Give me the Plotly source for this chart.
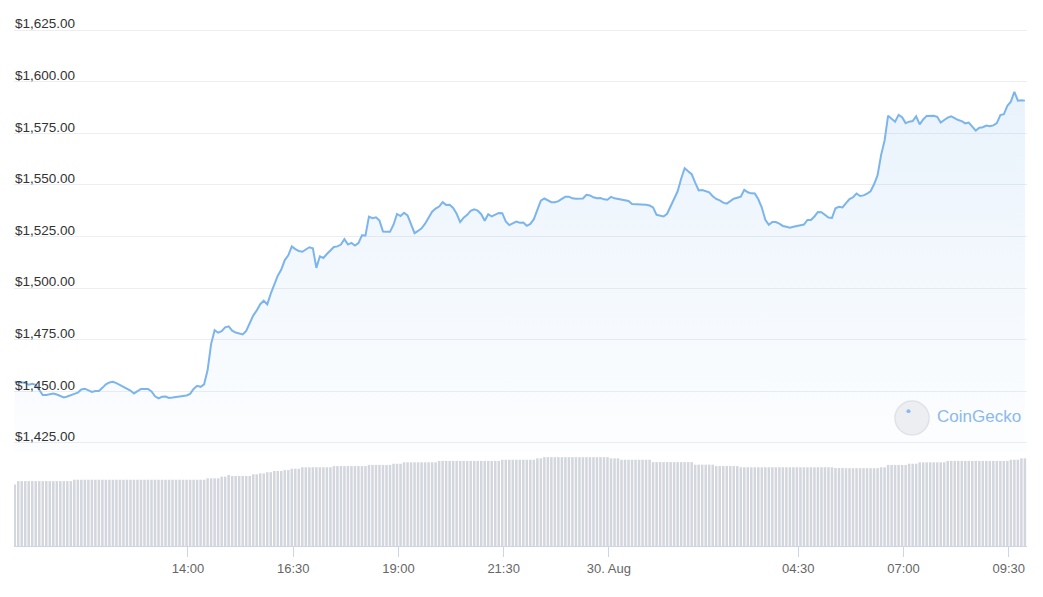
import pandas as pd
import plotly.graph_objects as go

# ETH price (USD), 5 minute points, 29 Aug 09:53 -> 30 Aug 09:53
price = [
    1454.7, 1454.5, 1454.4, 1454.2, 1453.2, 1453.7, 1453.2, 1450.5, 1448.2, 1448.2,
    1448.7, 1449.0, 1448.5, 1447.8, 1447.1, 1447.5, 1448.3, 1448.8, 1449.4, 1450.9,
    1451.3, 1450.4, 1449.7, 1450.2, 1450.2, 1451.7, 1453.4, 1454.3, 1454.6, 1454.0,
    1453.1, 1452.0, 1450.9, 1450.4, 1449.0, 1450.2, 1451.2, 1451.2, 1451.2, 1450.0,
    1447.6, 1446.6, 1447.4, 1447.5, 1446.8, 1447.0, 1447.3, 1447.8, 1447.8, 1448.0,
    1448.8, 1451.2, 1452.7, 1452.2, 1453.4, 1460.3, 1473.0, 1479.6, 1478.4, 1479.1,
    1481.0, 1481.5, 1479.4, 1478.5, 1477.9, 1477.6, 1479.3, 1483.0, 1486.7, 1489.2,
    1492.2, 1493.9, 1492.1, 1497.3, 1501.5, 1506.0, 1509.0, 1513.6, 1515.9, 1520.2,
    1518.9, 1518.0, 1517.6, 1518.5, 1519.8, 1519.3, 1509.8, 1515.4, 1514.6, 1516.5,
    1518.4, 1519.9, 1520.2, 1521.1, 1523.7, 1521.1, 1521.9, 1520.6, 1521.8, 1525.6,
    1525.5, 1534.6, 1533.9, 1534.3, 1532.7, 1527.4, 1527.3, 1527.3, 1530.7, 1535.9,
    1534.9, 1536.5, 1535.2, 1530.5, 1526.6, 1527.7, 1529.0, 1531.2, 1534.2, 1537.0,
    1538.5, 1539.5, 1541.6, 1540.3, 1540.4, 1538.8, 1536.0, 1532.0, 1534.1, 1535.5,
    1537.4, 1538.2, 1537.5, 1535.8, 1532.6, 1535.8, 1534.7, 1535.7, 1536.4, 1536.3,
    1532.3, 1530.5, 1531.4, 1532.2, 1531.7, 1531.8, 1530.2, 1531.1, 1533.4, 1538.0,
    1542.4, 1543.4, 1542.5, 1541.6, 1541.6, 1542.1, 1543.2, 1544.3, 1544.3, 1543.5,
    1543.3, 1543.2, 1543.4, 1545.2, 1544.9, 1544.0, 1543.5, 1543.6, 1543.0, 1542.8,
    1544.2, 1543.5, 1543.2, 1542.9, 1542.4, 1542.2, 1540.7, 1540.7, 1540.7, 1540.6,
    1540.4, 1540.0, 1539.1, 1535.5, 1535.2, 1534.7, 1536.0, 1539.6, 1543.9, 1546.9,
    1553.0, 1558.1, 1556.6, 1555.2, 1551.1, 1547.3, 1547.5, 1547.1, 1546.4, 1544.5,
    1543.2, 1542.5, 1541.4, 1540.9, 1542.0, 1543.3, 1543.8, 1544.3, 1547.6, 1546.4,
    1545.9, 1545.8, 1543.0, 1539.0, 1533.1, 1530.7, 1532.0, 1532.0, 1531.2, 1530.1,
    1529.7, 1529.2, 1529.7, 1530.1, 1530.2, 1530.8, 1533.0, 1533.0, 1534.7, 1536.9,
    1536.8, 1535.3, 1534.2, 1534.0, 1538.7, 1539.4, 1539.1, 1541.2, 1543.1, 1544.0,
    1545.8, 1544.6, 1544.9, 1545.8, 1546.9, 1550.3, 1554.7, 1564.4, 1571.5, 1583.5,
    1582.0, 1580.6, 1583.9, 1582.8, 1579.9, 1580.6, 1580.9, 1583.2, 1579.3, 1581.7,
    1583.4, 1583.5, 1583.5, 1583.0, 1580.2, 1581.4, 1582.6, 1583.2, 1582.1, 1581.4,
    1580.9, 1579.8, 1580.2, 1578.3, 1576.3, 1577.7, 1577.9, 1578.7, 1578.4, 1578.8,
    1579.9, 1583.8, 1584.2, 1588.3, 1590.3, 1595.1, 1590.8, 1591.0, 1590.8,
]

# 24h volume (USD bn), same timestamps
volume = [
    13.1,
    13.8, 13.8, 13.8, 13.8, 13.8, 13.8, 13.8, 13.8, 13.8, 13.8, 13.8, 13.8, 13.8, 13.8, 13.8, 13.8,
    14.1, 14.1, 14.1, 14.1, 14.1, 14.1, 14.1, 14.1, 14.1, 14.1, 14.1, 14.1, 14.1, 14.1, 14.1, 14.1,
    14.1, 14.1, 14.1, 14.1, 14.1, 14.1, 14.1, 14.1, 14.1, 14.1, 14.1, 14.1, 14.1, 14.1, 14.1, 14.1,
    14.1, 14.1, 14.1, 14.1, 14.1, 14.1,
    14.4, 14.4, 14.4, 14.4, 14.75, 14.75, 15.1,
    14.9, 14.9, 14.9, 14.9, 14.9, 14.9,
    15.25, 15.25, 15.45, 15.45, 15.7, 15.7, 15.95, 15.95, 15.95, 16.15, 16.15,
    16.45, 16.45, 16.45,
    16.75, 16.75, 16.75, 16.75, 16.75, 16.75, 16.75, 16.75, 16.75,
    17.0, 17.0, 17.0, 17.0, 17.0, 17.0, 17.0, 17.0, 17.0, 17.0,
    17.25, 17.25, 17.25, 17.25, 17.25, 17.25, 17.25,
    17.5, 17.5, 17.5,
    17.8, 17.8, 17.8, 17.8, 17.8, 17.8, 17.8, 17.8, 17.8, 17.8,
    18.1, 18.1, 18.1, 18.1, 18.1, 18.1, 18.1, 18.1, 18.1, 18.1, 18.1, 18.1, 18.1, 18.1, 18.1, 18.1,
    18.1, 18.1,
    18.35, 18.35, 18.35, 18.35, 18.35, 18.35, 18.35, 18.35, 18.35, 18.35,
    18.65, 18.65,
    18.9, 18.9, 18.9, 18.9, 18.9, 18.9, 18.9, 18.9, 18.9, 18.9, 18.9, 18.9, 18.9, 18.9, 18.9, 18.9,
    18.9, 18.9, 18.9,
    18.65, 18.65, 18.65,
    18.35, 18.35, 18.35, 18.35, 18.35, 18.35, 18.35, 18.35, 18.35,
    17.85, 17.85, 17.85, 17.85, 17.85, 17.85, 17.85, 17.85, 17.85, 17.85, 17.85, 17.85,
    17.3, 17.3, 17.3, 17.3, 17.3, 17.3,
    17.0, 17.0, 17.0, 17.0, 17.0, 17.0, 17.0,
    16.75, 16.75, 16.75, 16.75, 16.75, 16.75, 16.75, 16.75, 16.75, 16.75, 16.75, 16.75, 16.75, 16.75,
    16.75, 16.75, 16.75, 16.75, 16.75, 16.75, 16.75, 16.75, 16.75, 16.75, 16.75, 16.75, 16.75,
    16.6, 16.6, 16.6,
    16.55, 16.55, 16.55, 16.55, 16.55, 16.55, 16.55, 16.55, 16.55, 16.55,
    16.75, 16.75,
    17.25, 17.25, 17.25, 17.25, 17.25, 17.25,
    17.5, 17.5, 17.5,
    17.8, 17.8, 17.8, 17.8, 17.8, 17.8, 17.8, 17.8,
    18.1, 18.1, 18.1, 18.1, 18.1, 18.1, 18.1, 18.1, 18.1, 18.1, 18.1, 18.1, 18.1, 18.1, 18.1, 18.1,
    18.1, 18.1,
    18.35, 18.35, 18.35,
    18.65, 18.65,
]

tick_times = ["2022-08-29 14:00", "2022-08-29 16:30", "2022-08-29 19:00",
              "2022-08-29 21:30", "2022-08-30 00:00", "2022-08-30 04:30",
              "2022-08-30 07:00", "2022-08-30 09:30"]
tick_text = ["14:00", "16:30", "19:00", "21:30", "30. Aug", "04:30", "07:00", "09:30"]
price_ticks = [1425, 1450, 1475, 1500, 1525, 1550, 1575, 1600, 1625]
price_labels = ["$1,425.00", "$1,450.00", "$1,475.00", "$1,500.00", "$1,525.00",
                "$1,550.00", "$1,575.00", "$1,600.00", "$1,625.00"]

times = pd.date_range("2022-08-29 09:53", periods=len(price), freq="5min")
n = min(len(times), len(volume))

font = "Liberation Sans, Arial, sans-serif"
blue = "rgb(124,181,236)"

fig = go.Figure()
fig.add_trace(go.Bar(x=times[:n], y=volume[:n], marker_color="rgb(211,214,221)",
                     marker_line_width=0, xaxis="x", yaxis="y2"))
fig.add_trace(go.Scatter(x=times, y=price, mode="lines",
                         line=dict(color=blue, width=2),
                         fill="tozeroy",
                         fillgradient=dict(type="vertical", start=1420, stop=1600,
                                           colorscale=[[0, "rgba(124,181,236,0.02)"],
                                                       [1, "rgba(124,181,236,0.17)"]]),
                         xaxis="x", yaxis="y"))

# page body adds an 8px offset, margins are shifted to compensate
fig.update_layout(
    width=1043, height=597,
    margin=dict(l=6, r=24, t=2, b=59),
    plot_bgcolor="white", paper_bgcolor="white",
    showlegend=False, bargap=0.28,
    font=dict(family=font, size=13, color="#666666"),
    xaxis=dict(range=["2022-08-29 09:52", "2022-08-30 09:56"], anchor="y2",
               tickvals=tick_times, ticktext=tick_text, showgrid=False,
               showline=True, linecolor="#ccd6eb", linewidth=1,
               ticks="outside", ticklen=10, tickcolor="#ccd6eb",
               tickfont=dict(size=13, color="#666666"), zeroline=False),
    yaxis=dict(domain=[0.1754, 1], range=[1420.64, 1634.69], anchor="x",
               tickvals=price_ticks, ticktext=price_labels,
               ticklabelposition="inside top", ticklabelshift=3,
               ticklabelstandoff=-2, showgrid=True,
               gridcolor="#eceef1", gridwidth=1, zeroline=False,
               tickfont=dict(size=13.5, color="#333333")),
    yaxis2=dict(domain=[0, 0.1754], range=[0, 20], anchor="x",
                showgrid=False, showticklabels=False, zeroline=False),
)

# CoinGecko watermark
fig.add_shape(type="circle", xref="paper", yref="paper",
              x0=0.8697, x1=0.9033, y0=0.2071, y1=0.2705,
              fillcolor="#eceef2", line=dict(color="#dfe3e8", width=1.5))
fig.add_shape(type="circle", xref="paper", yref="paper",
              x0=0.8810, x1=0.8850, y0=0.2480, y1=0.2550,
              fillcolor="rgb(140,185,235)", line=dict(width=0))
fig.add_annotation(text="CoinGecko", xref="paper", yref="paper",
                   x=0.9092, y=0.2407, xanchor="left", yanchor="middle",
                   showarrow=False,
                   font=dict(family=font, size=17, color="rgb(140,185,235)"))

fig.write_html("out.html")
